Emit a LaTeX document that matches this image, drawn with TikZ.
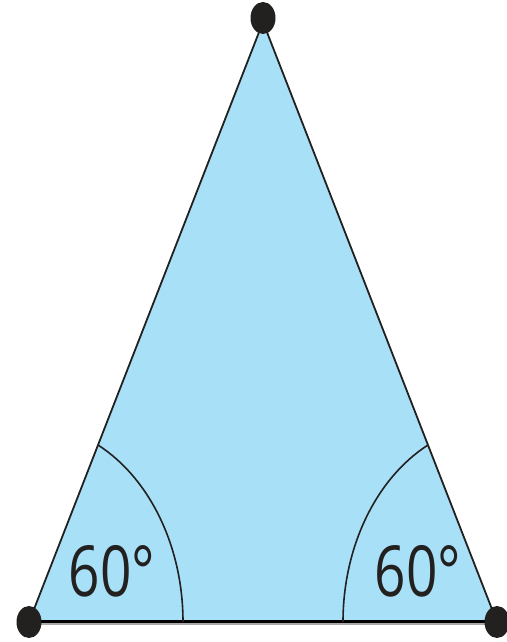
\documentclass[tikz,border=0pt]{standalone}
\usepackage{fontspec}
\setmainfont{Open Sans}
\definecolor{fillblue}{RGB}{168,224,248}
\definecolor{baseline}{RGB}{84,104,116}
\definecolor{shadow}{RGB}{170,170,170}
\definecolor{ink}{RGB}{35,32,32}
\tikzset{
  side/.style={draw=ink, line width=1.8pt},
  anglearc/.style={draw=ink, line width=1.6pt},
  vertexdot/.style={fill=ink, ellipse, inner sep=0pt, minimum width=25pt, minimum height=32pt},
  anglelabel/.style={font=\fontsize{55}{55}\selectfont, text=ink, yscale=1.28, inner sep=0pt}
}
\usepackage{tikz}
\usetikzlibrary{shapes.geometric}
\begin{document}
\begin{tikzpicture}[x=1pt,y=1pt]
\useasboundingbox (0,0) rectangle (506,642);
\coordinate (A) at (29,20);
\coordinate (B) at (497,20);
\coordinate (C) at (263,620);
\fill[fillblue] (A) -- (C) -- (B) -- cycle;
\draw[shadow, line width=2pt] (29,17.5) -- (497,17.5);
\draw[baseline, line width=3pt] (A) -- (B);
\draw[side] (A) -- (C) -- (B);
\draw[anglearc] (183,20) arc[start angle=0, end angle=63.4, x radius=154, y radius=198];
\draw[anglearc] (343,20) arc[start angle=180, end angle=116.6, x radius=154, y radius=198];
\node[anglelabel] (la) at (112,71) {60°};
\node[anglelabel] (lb) at (418,71) {60°};
\node[vertexdot] (da) at (A) {};
\node[vertexdot] (db) at (B) {};
\node[vertexdot] (dc) at (263,624) {};
\end{tikzpicture}
\end{document}
